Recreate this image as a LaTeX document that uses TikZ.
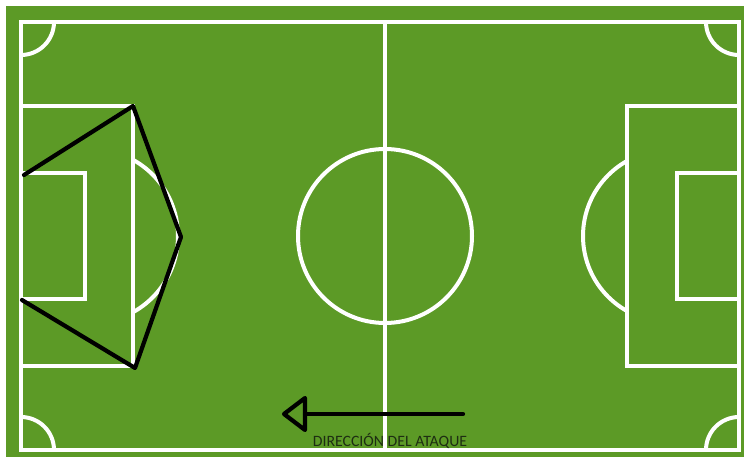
\documentclass[tikz,border=0pt]{standalone}
\usepackage{fontspec}
\setmainfont{Carlito}
\definecolor{pitch}{HTML}{5C9A26}
\definecolor{labeltext}{HTML}{1E2E12}
\tikzset{
  chalk/.style={draw=white,line width=4pt},
  tactic/.style={draw=black,line width=4.2pt,line join=round,line cap=round},
}
\begin{document}
\begin{tikzpicture}[x=1pt,y=-1pt]
\useasboundingbox (0,0) rectangle (744,457);
\fill[white] (0,0) rectangle (744,457);
\fill[pitch] (6,6) rectangle (744,457);
% outer lines and halfway line
\draw[chalk] (21,22) rectangle (739,450);
\draw[chalk] (385,22) -- (385,450);
\draw[chalk] (385,236) circle[radius=87];
% corner arcs
\draw[chalk] (54,22) arc[start angle=0,end angle=90,radius=33];
\draw[chalk] (706,22) arc[start angle=180,end angle=90,radius=33];
\draw[chalk] (21,417) arc[start angle=-90,end angle=0,radius=33];
\draw[chalk] (739,417) arc[start angle=270,end angle=180,radius=33];
% left penalty area
\draw[chalk] (21,106) -- (133,106) -- (133,366) -- (21,366);
\draw[chalk] (21,173) -- (85,173) -- (85,299) -- (21,299);
\begin{scope}
  \clip (133,0) rectangle (400,457);
  \draw[chalk] (91,236) circle[radius=87];
\end{scope}
% right penalty area
\draw[chalk] (739,106) -- (627,106) -- (627,366) -- (739,366);
\draw[chalk] (739,173) -- (677,173) -- (677,299) -- (739,299);
\begin{scope}
  \clip (380,0) rectangle (627,457);
  \draw[chalk] (669,236) circle[radius=86];
\end{scope}
% defensive shape
\coordinate (p1) at (24,175);
\coordinate (p2) at (133,106);
\coordinate (p3) at (181,237);
\coordinate (p4) at (135,368);
\coordinate (p5) at (22,300);
\draw[tactic] (p1) -- (p2) -- (p3) -- (p4) -- (p5);
% attack direction arrow
\coordinate (atail) at (463,414);
\coordinate (abase) at (305,414);
\coordinate (atip) at (284,414);
\draw[tactic] (atail) -- (abase);
\draw[tactic] (atip) -- (305,398) -- (305,430) -- cycle;
\node[anchor=base,inner sep=0pt,text=labeltext,font=\fontsize{15.8}{16}\selectfont] (lbl) at (390,446) {DIRECCIÓN DEL ATAQUE};
\end{tikzpicture}
\end{document}
